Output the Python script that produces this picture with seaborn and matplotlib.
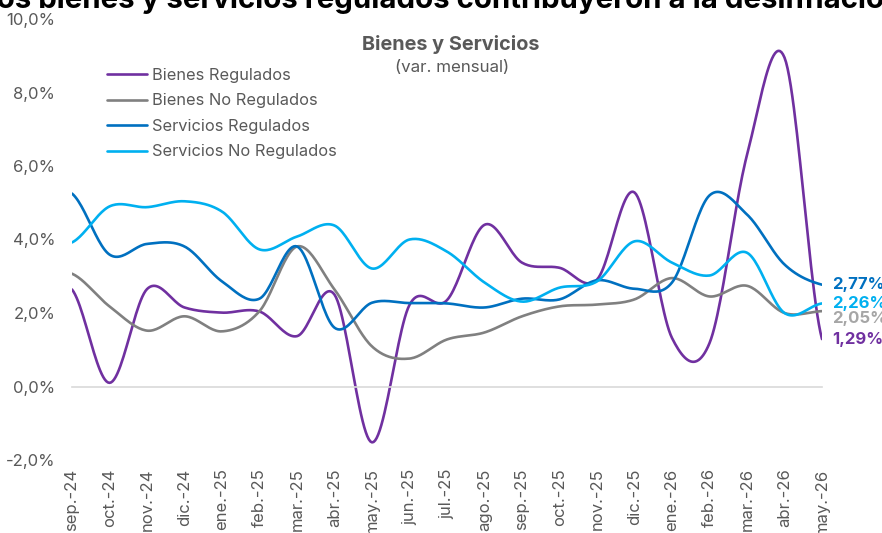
import numpy as np
import pandas as pd
import matplotlib
matplotlib.use("Agg")
import matplotlib.pyplot as plt
import seaborn as sns

# datos (var. mensual, %)
meses = ["sep.-24", "oct.-24", "nov.-24", "dic.-24", "ene.-25", "feb.-25", "mar.-25",
         "abr.-25", "may.-25", "jun.-25", "jul.-25", "ago.-25", "sep.-25", "oct.-25",
         "nov.-25", "dic.-25", "ene.-26", "feb.-26", "mar.-26", "abr.-26", "may.-26"]

bienes_reg = [2.64, 0.10, 2.65, 2.15, 2.01, 2.04, 1.37, 2.50, -1.52, 2.22, 2.35,
              4.40, 3.37, 3.23, 2.91, 5.28, 1.32, 1.18, 6.30, 8.95, 1.29]
bienes_no_reg = [3.07, 2.18, 1.52, 1.91, 1.50, 2.05, 3.81, 2.64, 1.09, 0.76, 1.28,
                 1.47, 1.91, 2.18, 2.23, 2.37, 2.95, 2.45, 2.74, 2.00, 2.05]
serv_reg = [5.25, 3.59, 3.88, 3.81, 2.86, 2.39, 3.81, 1.60, 2.28, 2.27, 2.26,
            2.15, 2.39, 2.37, 2.89, 2.66, 2.83, 5.20, 4.68, 3.32, 2.77]
serv_no_reg = [3.92, 4.90, 4.88, 5.04, 4.76, 3.73, 4.08, 4.38, 3.21, 4.00, 3.67,
               2.83, 2.31, 2.69, 2.86, 3.95, 3.37, 3.02, 3.64, 2.00, 2.26]

series = {
    "Bienes Regulados": bienes_reg,
    "Bienes No Regulados": bienes_no_reg,
    "Servicios Regulados": serv_reg,
    "Servicios No Regulados": serv_no_reg,
}
colores = {
    "Bienes Regulados": "#7030A0",
    "Bienes No Regulados": "#808080",
    "Servicios Regulados": "#0070C0",
    "Servicios No Regulados": "#00B0F0",
}
colores_etiqueta = {
    "Bienes Regulados": "#7030A0",
    "Bienes No Regulados": "#A6A6A6",
    "Servicios Regulados": "#0070C0",
    "Servicios No Regulados": "#00B0F0",
}


# curva suavizada tipo Excel (Catmull-Rom)
def suavizar(vals, n=24):
    v = np.asarray(vals, dtype=float)
    p = np.r_[v[0], v, v[-1]]
    xs, ys = [], []
    t = np.linspace(0, 1, n, endpoint=False)
    for i in range(len(v) - 1):
        p0, p1, p2, p3 = p[i:i + 4]
        m1 = (p2 - p0) / 2
        m2 = (p3 - p1) / 2
        h00 = 2 * t**3 - 3 * t**2 + 1
        h10 = t**3 - 2 * t**2 + t
        h01 = -2 * t**3 + 3 * t**2
        h11 = t**3 - t**2
        ys.append(h00 * p1 + h10 * m1 + h01 * p2 + h11 * m2)
        xs.append(i + t)
    xs.append([len(v) - 1])
    ys.append([v[-1]])
    return np.concatenate(xs), np.concatenate(ys)


filas = []
for nombre, vals in series.items():
    xs, ys = suavizar(vals)
    filas.append(pd.DataFrame({"x": xs, "valor": ys, "serie": nombre}))
df = pd.concat(filas, ignore_index=True)

sns.set_style("white")
plt.rcParams["font.family"] = ["Inter", "DejaVu Sans"]
gris = "#595959"

fig = plt.figure(figsize=(8.82, 5.33), dpi=100)
ax = fig.add_axes([72 / 882, 1 - 460 / 533, 750 / 882, 441 / 533])

sns.lineplot(data=df, x="x", y="valor", hue="serie", hue_order=list(series.keys()),
             palette=colores, linewidth=1.9, estimator=None, sort=False, ax=ax)

ax.set_xlim(0, len(meses) - 1)
ax.set_ylim(-2, 10)
ax.set_yticks(np.arange(-2, 10.1, 2))
ax.set_yticklabels([f"{v:.1f}%".replace(".", ",") for v in np.arange(-2, 10.1, 2)])
ax.tick_params(axis="y", length=0, pad=12, labelsize=12, labelcolor=gris)
ax.set_xlabel("")
ax.set_ylabel("")

for s in ["top", "right", "left"]:
    ax.spines[s].set_visible(False)
ax.spines["bottom"].set_position(("data", 0))
ax.spines["bottom"].set_color("#D9D9D9")
ax.spines["bottom"].set_linewidth(1.2)
ax.set_xticks(range(len(meses)))
ax.tick_params(axis="x", direction="out", length=5, width=1, color="#D9D9D9",
               labelbottom=False)

sec = ax.secondary_xaxis("bottom")
sec.set_xticks(range(len(meses)), labels=meses, rotation=90)
sec.tick_params(length=0, pad=6, labelsize=12, labelcolor=gris)
sec.spines["bottom"].set_visible(False)

# leyenda
handles, labels = ax.get_legend_handles_labels()
ax.legend(handles, labels, loc="upper left", bbox_to_anchor=(107 / 882, 1 - 68 / 533),
          bbox_transform=fig.transFigure, frameon=False, fontsize=11.8,
          labelcolor=gris, handlelength=2.45, handletextpad=0.3, labelspacing=0.64,
          borderpad=0, borderaxespad=0)

# etiquetas finales
ajustes = {"Bienes No Regulados": -5}
for nombre, vals in series.items():
    ax.annotate(f"{vals[-1]:.2f}%".replace(".", ","), xy=(len(meses) - 1, vals[-1]),
                xytext=(7, ajustes.get(nombre, 0)), textcoords="offset points",
                ha="left", va="center", fontsize=12, fontweight="bold",
                color=colores_etiqueta[nombre])

# títulos
fig.text(451 / 882, 1 - 45 / 533, "Bienes y Servicios", ha="center", va="center",
         fontsize=14.3, fontweight="bold", color=gris)
fig.text(452 / 882, 1 - 67 / 533, "(var. mensual)", ha="center", va="center",
         fontsize=12.2, color=gris)
fig.text(0.5, 1 - 8 / 533, "Los bienes y servicios regulados contribuyeron a la desinflación",
         ha="center", va="baseline", fontsize=21.2, fontweight="bold", color="black")

fig.savefig("out.png", dpi=100)
